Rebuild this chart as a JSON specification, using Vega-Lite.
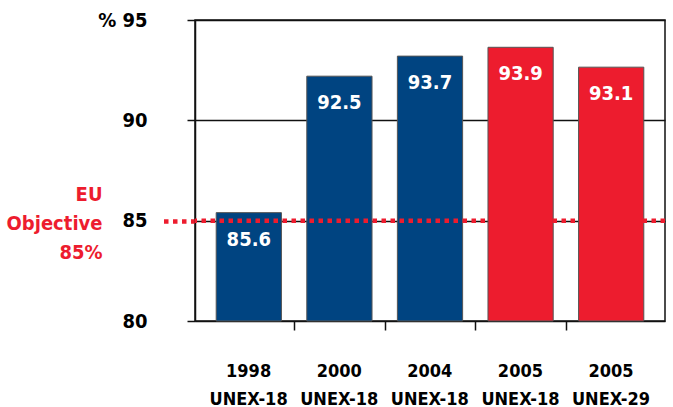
{
  "$schema": "https://vega.github.io/schema/vega-lite/v6.json",
  "width": 470,
  "height": 301,
  "autosize": {"type": "none"},
  "padding": {"left": 195, "top": 20, "right": 8, "bottom": 86},
  "config": {
    "font": "DejaVu Sans Condensed",
    "view": {"stroke": "#111", "strokeWidth": 1.5},
    "axis": {
      "domainColor": "#111", "domainWidth": 1.5,
      "tickColor": "#111", "tickWidth": 1.5,
      "gridColor": "#111", "gridWidth": 1.5,
      "labelFont": "DejaVu Sans Condensed", "labelFontSize": 20, "labelFontWeight": "bold", "labelColor": "#000",
      "titleFont": "DejaVu Sans Condensed", "titleFontSize": 20, "titleFontWeight": "bold"
    }
  },
  "data": {
    "values": [
      {"cat": "1998|UNEX-18", "value": 85.6, "bar": 85.4, "period": "earlier"},
      {"cat": "2000|UNEX-18", "value": 92.5, "bar": 92.2, "period": "earlier"},
      {"cat": "2004|UNEX-18", "value": 93.7, "bar": 93.2, "period": "earlier"},
      {"cat": "2005|UNEX-18", "value": 93.9, "bar": 93.64, "period": "2005"},
      {"cat": "2005|UNEX-29", "value": 93.1, "bar": 92.65, "period": "2005"}
    ]
  },
  "layer": [
    {
      "mark": {"type": "bar", "stroke": "#555", "strokeWidth": 1},
      "encoding": {
        "x": {
          "field": "cat", "type": "nominal", "sort": null,
          "scale": {"paddingInner": 0.28, "paddingOuter": 0.234},
          "axis": {
            "title": null, "labelAngle": 0, "domain": false,
            "labelExpr": "split(datum.label, '|')", "labelLineHeight": 28, "labelBaseline": "top",
            "labelFontSize": 18, "labelAlign": "center",
            "tickSize": 9, "labelPadding": 32, "bandPosition": 0, "tickOffset": -12.7, "labelOffset": 12,
            "tickOpacity": {"condition": {"test": "datum.value === '1998|UNEX-18'", "value": 0}, "value": 1}
          }
        },
        "y": {
          "field": "bar", "type": "quantitative",
          "scale": {"domain": [80, 95], "zero": false, "nice": false},
          "axis": {
            "values": [80, 85, 90, 95], "grid": true, "domain": true,
            "tickSize": {"condition": {"test": "datum.value === 85", "value": 32}, "value": 8},
            "tickColor": {"condition": {"test": "datum.value === 85", "value": "#ED1C2E"}, "value": "#111"},
            "tickWidth": {"condition": {"test": "datum.value === 85", "value": 4.5}, "value": 1.5},
            "tickDash": {"condition": {"test": "datum.value === 85", "value": [4.5, 4.5]}, "value": []},
            "labelPadding": {"condition": {"test": "datum.value === 85", "value": 16}, "value": 40},
            "labelExpr": "datum.value === 95 ? '%    95' : datum.label",
            "title": ["EU", "Objective", "85%"],
            "titleAngle": 0, "titleAlign": "right", "titleBaseline": "alphabetic",
            "titleX": -93, "titleY": 180, "titleLineHeight": 29, "titleColor": "#ED1C2E"
          }
        },
        "y2": {"datum": 80},
        "color": {
          "field": "period", "type": "nominal",
          "scale": {"domain": ["earlier", "2005"], "range": ["#004481", "#ED1C2E"]},
          "legend": null
        }
      }
    },
    {
      "mark": {"type": "text", "color": "#fff", "fontSize": 20, "fontWeight": "bold", "baseline": "alphabetic", "dy": 33},
      "encoding": {
        "x": {"field": "cat", "type": "nominal", "sort": null},
        "y": {"field": "bar", "type": "quantitative"},
        "text": {"field": "value", "type": "quantitative", "format": ".1f"}
      }
    },
    {
      "data": {"values": [{"objective": 85}]},
      "mark": {"type": "rule", "color": "#ED1C2E", "strokeWidth": 4.5, "strokeDash": [4.5, 4.5]},
      "encoding": {"y": {"field": "objective", "type": "quantitative"}}
    }
  ]
}
